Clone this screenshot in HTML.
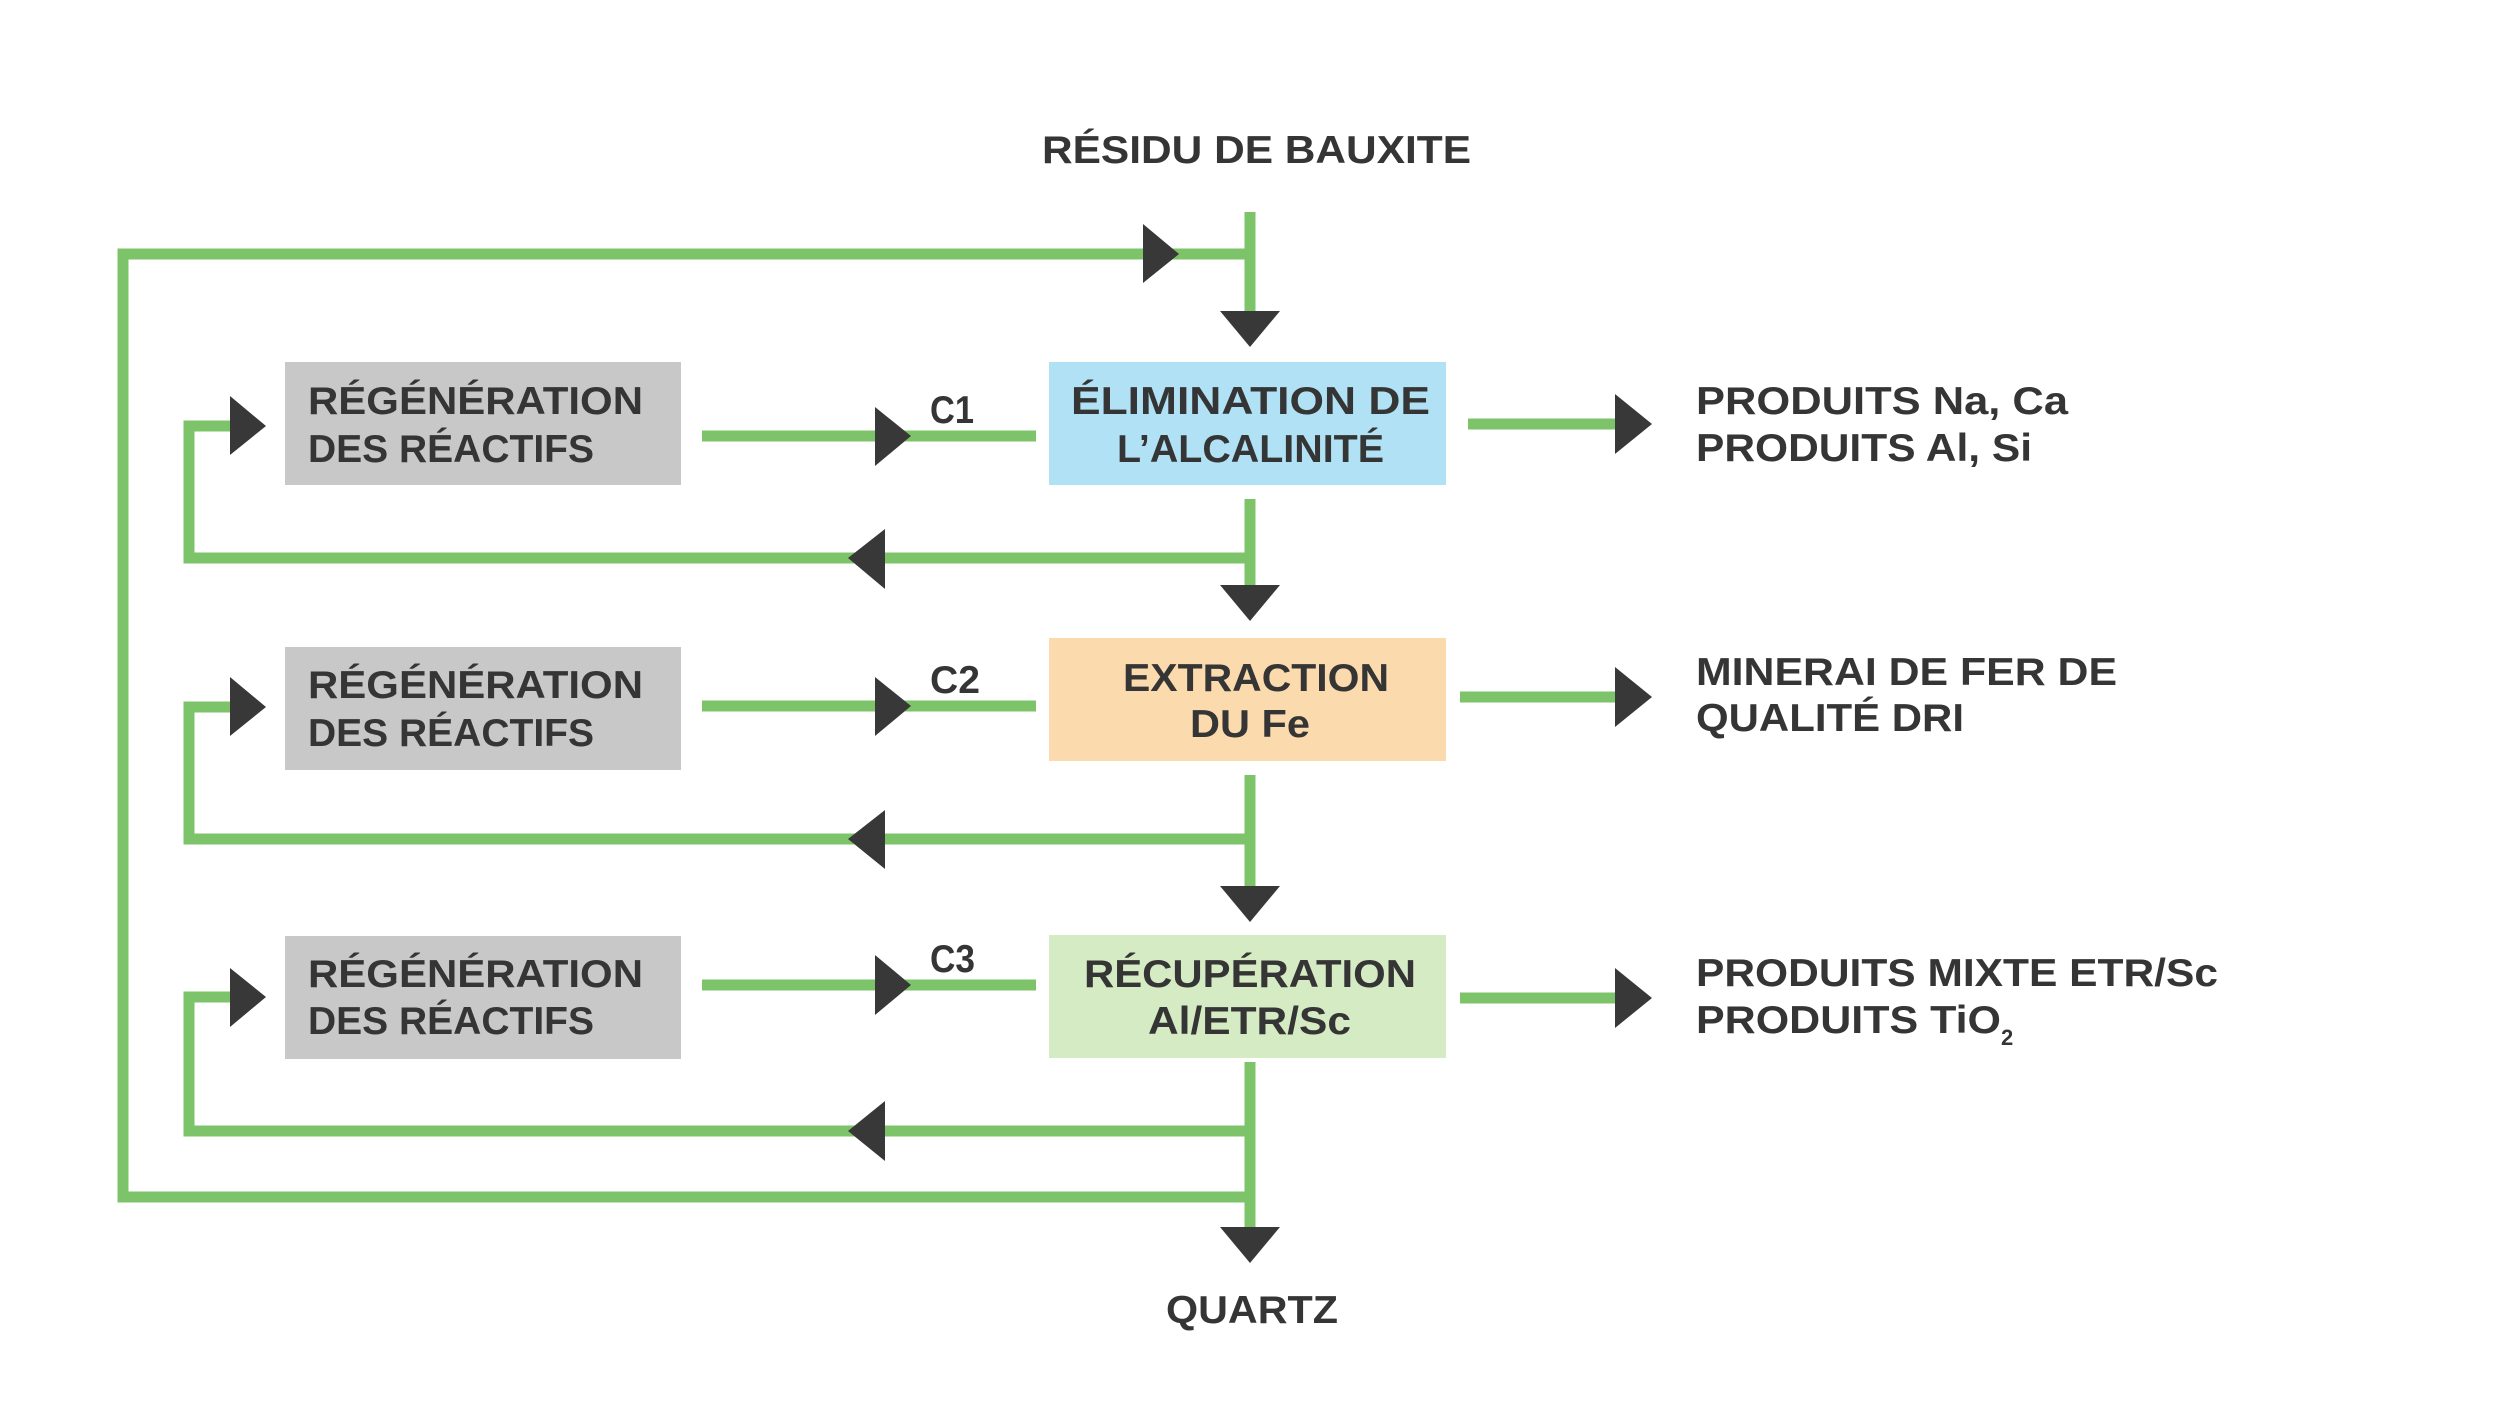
<!DOCTYPE html>
<html><head><meta charset="utf-8"><style>
html,body{margin:0;padding:0;background:#fff;}
svg{display:block;}
text{font-family:"Liberation Sans",sans-serif;font-weight:bold;fill:#353535;font-size:39px;}
</style></head><body>
<svg width="2500" height="1406" viewBox="0 0 2500 1406" xmlns="http://www.w3.org/2000/svg">
<g fill="none" stroke="#7dc36a" stroke-width="11">
  <!-- main vertical -->
  <line x1="1250" y1="212" x2="1250" y2="320"/>
  <line x1="1250" y1="499" x2="1250" y2="590"/>
  <line x1="1250" y1="775" x2="1250" y2="890"/>
  <line x1="1250" y1="1062" x2="1250" y2="1230"/>
  <!-- outer loop -->
  <polyline points="1250,1197 123,1197 123,254 1250,254"/>
  <!-- row1 -->
  <polyline points="1250,558 189,558 189,426 240,426"/>
  <line x1="702" y1="436" x2="1036" y2="436"/>
  <line x1="1468" y1="424" x2="1620" y2="424"/>
  <!-- row2 -->
  <polyline points="1250,839 189,839 189,707 240,707"/>
  <line x1="702" y1="706" x2="1036" y2="706"/>
  <line x1="1460" y1="697" x2="1620" y2="697"/>
  <!-- row3 -->
  <polyline points="1250,1131 189,1131 189,997 240,997"/>
  <line x1="702" y1="985" x2="1036" y2="985"/>
  <line x1="1460" y1="998" x2="1620" y2="998"/>
</g>
<g fill="#383838">
  <polygon points="1143,224 1179,254 1143,283"/>
  <polygon points="1220,311 1280,311 1250,347"/>
  <polygon points="1220,585 1280,585 1250,621"/>
  <polygon points="1220,886 1280,886 1250,922"/>
  <polygon points="1220,1227 1280,1227 1250,1263"/>
  <!-- row1 -->
  <polygon points="230,396 266,426 230,455"/>
  <polygon points="875,407 911,436 875,466"/>
  <polygon points="885,529 848,558 885,589"/>
  <polygon points="1615,394 1652,424 1615,454"/>
  <!-- row2 -->
  <polygon points="230,677 266,707 230,736"/>
  <polygon points="875,677 911,706 875,736"/>
  <polygon points="885,810 848,839 885,869"/>
  <polygon points="1615,667 1652,697 1615,727"/>
  <!-- row3 -->
  <polygon points="230,968 266,997 230,1027"/>
  <polygon points="875,955 911,985 875,1015"/>
  <polygon points="885,1101 848,1131 885,1161"/>
  <polygon points="1615,968 1652,998 1615,1028"/>
</g>
<!-- boxes -->
<rect x="285" y="362" width="396" height="123" fill="#c8c8c8"/>
<rect x="1049" y="362" width="397" height="123" fill="#b0e1f5"/>
<rect x="285" y="647" width="396" height="123" fill="#c8c8c8"/>
<rect x="1049" y="638" width="397" height="123" fill="#fbdaad"/>
<rect x="285" y="936" width="396" height="123" fill="#c8c8c8"/>
<rect x="1049" y="935" width="397" height="123" fill="#d5ebc3"/>
<!-- texts -->
<text x="1042" y="163" textLength="429" lengthAdjust="spacingAndGlyphs">RÉSIDU DE BAUXITE</text>
<text x="308" y="414" textLength="335" lengthAdjust="spacingAndGlyphs">RÉGÉNÉRATION</text>
<text x="308" y="462" textLength="286" lengthAdjust="spacingAndGlyphs">DES RÉACTIFS</text>
<text x="308" y="698" textLength="335" lengthAdjust="spacingAndGlyphs">RÉGÉNÉRATION</text>
<text x="308" y="746" textLength="286" lengthAdjust="spacingAndGlyphs">DES RÉACTIFS</text>
<text x="308" y="987" textLength="335" lengthAdjust="spacingAndGlyphs">RÉGÉNÉRATION</text>
<text x="308" y="1034" textLength="286" lengthAdjust="spacingAndGlyphs">DES RÉACTIFS</text>
<text x="1071" y="414" textLength="359" lengthAdjust="spacingAndGlyphs">ÉLIMINATION DE</text>
<text x="1117" y="462" textLength="267" lengthAdjust="spacingAndGlyphs">L’ALCALINITÉ</text>
<text x="1123" y="691" textLength="266" lengthAdjust="spacingAndGlyphs">EXTRACTION</text>
<text x="1190" y="737" textLength="120" lengthAdjust="spacingAndGlyphs">DU Fe</text>
<text x="1084" y="987" textLength="332" lengthAdjust="spacingAndGlyphs">RÉCUPÉRATION</text>
<text x="1148" y="1034" textLength="203" lengthAdjust="spacingAndGlyphs">Al/ETR/Sc</text>
<text x="930" y="423" textLength="44" lengthAdjust="spacingAndGlyphs">C1</text>
<text x="930" y="693" textLength="50" lengthAdjust="spacingAndGlyphs">C2</text>
<text x="930" y="972" textLength="45" lengthAdjust="spacingAndGlyphs">C3</text>
<text x="1696" y="414" textLength="372" lengthAdjust="spacingAndGlyphs">PRODUITS Na, Ca</text>
<text x="1696" y="461" textLength="336" lengthAdjust="spacingAndGlyphs">PRODUITS Al, Si</text>
<text x="1696" y="685" textLength="421" lengthAdjust="spacingAndGlyphs">MINERAI DE FER DE</text>
<text x="1696" y="731" textLength="268" lengthAdjust="spacingAndGlyphs">QUALITÉ DRI</text>
<text x="1696" y="986" textLength="522" lengthAdjust="spacingAndGlyphs">PRODUITS MIXTE ETR/Sc</text>
<text x="1696" y="1033" textLength="305" lengthAdjust="spacingAndGlyphs">PRODUITS TiO</text>
<text x="2001" y="1045" style="font-size:22px">2</text>
<text x="1166" y="1323" textLength="172" lengthAdjust="spacingAndGlyphs">QUARTZ</text>
</svg>
</body></html>
